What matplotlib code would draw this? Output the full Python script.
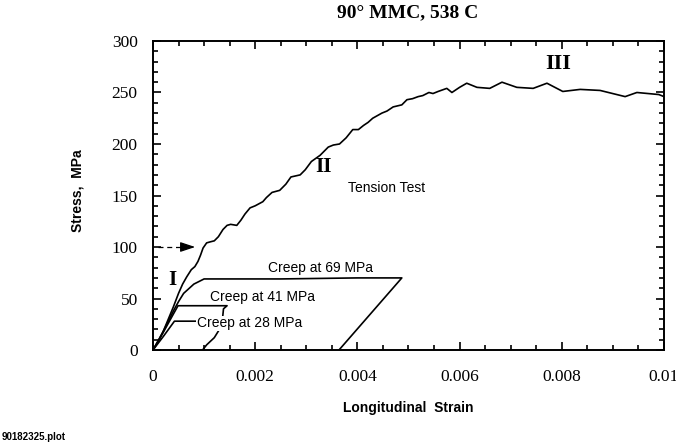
import numpy as np
import matplotlib
matplotlib.use('Agg')
import matplotlib.pyplot as plt
from matplotlib.ticker import MultipleLocator, FuncFormatter

# tension test, 90 deg MMC at 538 C
tension_strain = [0, 0.0001, 0.0002, 0.0003, 0.0004, 0.0005, 0.00058, 0.00066, 0.00075, 0.00082,
                  0.00088, 0.00093, 0.00098, 0.00105, 0.00112, 0.0012, 0.00128, 0.00137, 0.00145, 0.00152,
                  0.00164, 0.00172, 0.0018, 0.0019, 0.002, 0.00215, 0.00222, 0.00233, 0.00248, 0.0026,
                  0.0027, 0.00288, 0.00298, 0.0031, 0.00327, 0.00343, 0.00353, 0.00365, 0.00378, 0.00391,
                  0.00402, 0.00412, 0.00421, 0.0043, 0.00448, 0.00458, 0.0047, 0.00487, 0.00497, 0.00508,
                  0.00519, 0.00528, 0.0054, 0.00548, 0.00558, 0.00575, 0.00585, 0.006, 0.00614, 0.00634,
                  0.00659, 0.00683, 0.00712, 0.00744, 0.00771, 0.00802, 0.00836, 0.00875, 0.00924, 0.00947,
                  0.0099, 0.01]
tension_stress = [0, 8, 18, 30, 42, 55, 64, 71, 78, 81,
                  86, 92, 99, 104, 105, 106, 110, 117, 121, 122,
                  121, 126, 132, 138, 140, 144, 148, 153, 155, 161,
                  168, 170, 175, 183, 189, 197, 199, 200, 206, 214,
                  214, 218, 221, 225, 230, 232, 236, 238, 243, 244,
                  246, 247, 250, 249, 251, 254, 250, 255, 259, 255,
                  254, 260, 255, 254, 259, 251, 253, 252, 246, 250,
                  248, 246]

# creep tests: load, hold, unload
creep69_strain = [0, 0.0002, 0.0004, 0.0005, 0.0006, 0.0008, 0.001, 0.0025, 0.004, 0.00487, 0.00364]
creep69_stress = [0, 18, 38, 47, 55, 64, 69, 69, 70, 70, 0]
creep41_strain = [0, 0.0002, 0.0004, 0.00049, 0.0009, 0.00145, 0.00138, 0.00136, 0.0013, 0.0012, 0.00105, 0.00097]
creep41_stress = [0, 17, 35, 43, 43, 43, 40, 30, 20, 12, 5, 0]
creep28_strain = [0, 0.0002, 0.00042, 0.0008, 0.0013]
creep28_stress = [0, 13, 28, 28, 28]

serif = 'Liberation Serif'
sans = 'Liberation Sans'

fig = plt.figure(figsize=(6.76, 4.46), dpi=100)
ax = fig.add_axes([0.2263, 0.2152, 0.7559, 0.6929])

lw = 1.2
ax.plot(tension_strain, tension_stress, color='k', lw=lw)
ax.plot(creep69_strain, creep69_stress, color='k', lw=lw)
ax.plot(creep41_strain, creep41_stress, color='k', lw=lw)
ax.plot(creep28_strain, creep28_stress, color='k', lw=lw)

# arrow marking 100 MPa on the tension curve
ax.plot([0.0001, 0.0007], [100, 100], color='k', lw=0.9, ls=(0, (4, 3)))
ax.annotate('', xy=(0.00088, 100), xytext=(0.00066, 100),
            arrowprops=dict(arrowstyle='-|>,head_length=0.9,head_width=0.3', color='k', lw=0.9))

ax.set_xlim(0, 0.01)
ax.set_ylim(0, 300)
ax.xaxis.set_major_locator(MultipleLocator(0.002))
ax.xaxis.set_minor_locator(MultipleLocator(0.0005))
ax.yaxis.set_major_locator(MultipleLocator(50))
ax.yaxis.set_minor_locator(MultipleLocator(10))
ax.xaxis.set_major_formatter(FuncFormatter(lambda v, p: '%g' % v))
ax.yaxis.set_major_formatter(FuncFormatter(lambda v, p: '%g' % v))
ax.tick_params(which='both', direction='in', top=True, right=True, width=1.2)
ax.tick_params(which='major', length=6)
ax.tick_params(which='minor', length=3.5)
ax.tick_params(axis='x', which='major', pad=14)
ax.tick_params(axis='y', which='major', pad=11)
for lab in ax.get_xticklabels() + ax.get_yticklabels():
    lab.set_fontfamily(serif)
    lab.set_fontsize(12.5)
for s in ax.spines.values():
    s.set_linewidth(1.4)

ax.text(0.00225, 80, 'Creep at 69 MPa', family=sans, fontsize=10, va='center', ha='left')
ax.text(0.00112, 51, 'Creep at 41 MPa', family=sans, fontsize=10, va='center', ha='left')
ax.text(0.00086, 26, 'Creep at 28 MPa', family=sans, fontsize=10, va='center', ha='left',
        bbox=dict(facecolor='white', edgecolor='none', pad=0.5))
ax.text(0.00382, 157, 'Tension Test', family=sans, fontsize=10, va='center', ha='left')
ax.text(0.00037, 68, 'I', family=serif, fontweight='bold', fontsize=15, va='center', ha='center')
ax.text(0.00333, 178, 'II', family=serif, fontweight='bold', fontsize=15, va='center', ha='center')
ax.text(0.00793, 278, 'III', family=serif, fontweight='bold', fontsize=16, va='center', ha='center')

fig.text(408 / 676, 1 - 13 / 446, '90° MMC, 538 C', family=serif, fontweight='bold',
         fontsize=14, ha='center', va='center')
fig.text(408 / 676, 1 - 408 / 446, 'Longitudinal  Strain', family=sans, fontweight='bold',
         fontsize=10, ha='center', va='center')
fig.text(78 / 676, 1 - 191 / 446, 'Stress,  MPa', family=sans, fontweight='bold',
         fontsize=10, ha='center', va='center', rotation=90)
fig.text(2 / 676, 1 - 437 / 446, '90182325.plot', family=sans, fontweight='bold',
         fontsize=7, ha='left', va='center')

fig.savefig('out.png', dpi=100)
